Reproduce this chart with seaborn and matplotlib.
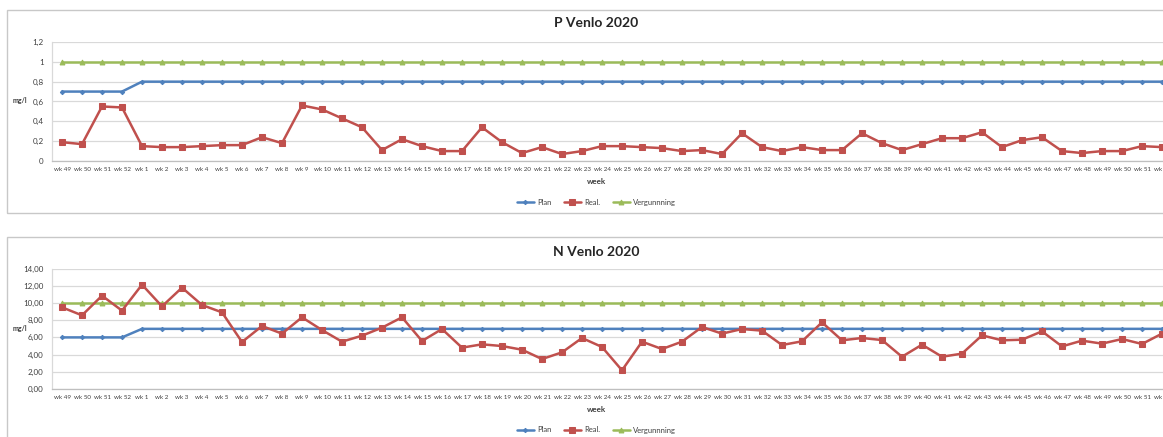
import matplotlib
matplotlib.use("Agg")
import matplotlib.pyplot as plt
import seaborn as sns
import pandas as pd
from matplotlib.patches import Rectangle
from matplotlib.ticker import FuncFormatter, MultipleLocator

# ---------------- data ----------------
weeks = ["wk 49", "wk 50", "wk 51", "wk 52"] + ["wk %d" % i for i in range(1, 53)]

p_plan = [0.7, 0.7, 0.7, 0.7,
          0.8, 0.8, 0.8, 0.8, 0.8, 0.8, 0.8, 0.8, 0.8, 0.8,
          0.8, 0.8, 0.8, 0.8, 0.8, 0.8, 0.8, 0.8, 0.8, 0.8,
          0.8, 0.8, 0.8, 0.8, 0.8, 0.8, 0.8, 0.8, 0.8, 0.8,
          0.8, 0.8, 0.8, 0.8, 0.8, 0.8, 0.8, 0.8, 0.8, 0.8,
          0.8, 0.8, 0.8, 0.8, 0.8, 0.8, 0.8, 0.8, 0.8, 0.8,
          0.8, 0.8]
p_real = [0.19, 0.17, 0.55, 0.54,
          0.15, 0.14, 0.14, 0.15, 0.16, 0.16, 0.24, 0.18, 0.56, 0.52,
          0.43, 0.34, 0.11, 0.22, 0.15, 0.10, 0.10, 0.34, 0.19, 0.08,
          0.14, 0.07, 0.10, 0.15, 0.15, 0.14, 0.13, 0.10, 0.11, 0.07,
          0.28, 0.14, 0.10, 0.14, 0.11, 0.11, 0.28, 0.18, 0.11, 0.17,
          0.23, 0.23, 0.29, 0.14, 0.21, 0.24, 0.10, 0.08, 0.10, 0.10,
          0.15, 0.14]
p_verg = [1.0, 1.0, 1.0, 1.0,
          1.0, 1.0, 1.0, 1.0, 1.0, 1.0, 1.0, 1.0, 1.0, 1.0,
          1.0, 1.0, 1.0, 1.0, 1.0, 1.0, 1.0, 1.0, 1.0, 1.0,
          1.0, 1.0, 1.0, 1.0, 1.0, 1.0, 1.0, 1.0, 1.0, 1.0,
          1.0, 1.0, 1.0, 1.0, 1.0, 1.0, 1.0, 1.0, 1.0, 1.0,
          1.0, 1.0, 1.0, 1.0, 1.0, 1.0, 1.0, 1.0, 1.0, 1.0,
          1.0, 1.0]

n_plan = [6.0, 6.0, 6.0, 6.0,
          7.0, 7.0, 7.0, 7.0, 7.0, 7.0, 7.0, 7.0, 7.0, 7.0,
          7.0, 7.0, 7.0, 7.0, 7.0, 7.0, 7.0, 7.0, 7.0, 7.0,
          7.0, 7.0, 7.0, 7.0, 7.0, 7.0, 7.0, 7.0, 7.0, 7.0,
          7.0, 7.0, 7.0, 7.0, 7.0, 7.0, 7.0, 7.0, 7.0, 7.0,
          7.0, 7.0, 7.0, 7.0, 7.0, 7.0, 7.0, 7.0, 7.0, 7.0,
          7.0, 7.0]
n_real = [9.52, 8.58, 10.88, 9.13,
          12.17, 9.63, 11.82, 9.79, 8.93, 5.46, 7.33, 6.44, 8.35, 6.86,
          5.50, 6.20, 7.14, 8.35, 5.58, 6.98, 4.80, 5.19, 4.99, 4.56,
          3.47, 4.25, 5.93, 4.88, 2.15, 5.50, 4.64, 5.50, 7.22, 6.44,
          6.98, 6.79, 5.11, 5.54, 7.76, 5.66, 5.93, 5.69, 3.74, 5.15,
          3.74, 4.10, 6.24, 5.66, 5.73, 6.71, 4.95, 5.62, 5.27, 5.81,
          5.23, 6.44]
n_verg = [10.0, 10.0, 10.0, 10.0,
          10.0, 10.0, 10.0, 10.0, 10.0, 10.0, 10.0, 10.0, 10.0, 10.0,
          10.0, 10.0, 10.0, 10.0, 10.0, 10.0, 10.0, 10.0, 10.0, 10.0,
          10.0, 10.0, 10.0, 10.0, 10.0, 10.0, 10.0, 10.0, 10.0, 10.0,
          10.0, 10.0, 10.0, 10.0, 10.0, 10.0, 10.0, 10.0, 10.0, 10.0,
          10.0, 10.0, 10.0, 10.0, 10.0, 10.0, 10.0, 10.0, 10.0, 10.0,
          10.0, 10.0]

series_names = ["Plan", "Real.", "Vergunnning"]
titles = ["P Venlo 2020", "N Venlo 2020"]

# ---------------- style ----------------
sns.set_theme(style="white")
plt.rcParams["font.family"] = ["Lato", "DejaVu Sans"]

C_PLAN = "#4F81BD"
C_REAL = "#C0504D"
C_VERG = "#9BBB59"
GRID = "#D9D9D9"
TXT = "#404040"

W, H = 1163, 437
fig = plt.figure(figsize=(W / 100, H / 100), dpi=100)
fig.patch.set_facecolor("white")


def fx(px):
    return px / W


def fy(py):
    return 1 - py / H


# chart boxes
fig.patches.append(Rectangle((fx(7), fy(213)), 1.2, fy(10) - fy(213),
                             transform=fig.transFigure, fill=False,
                             edgecolor="#C8C8C8", linewidth=1.0))
fig.patches.append(Rectangle((fx(7), -0.2), 1.2, fy(237) + 0.2,
                             transform=fig.transFigure, fill=False,
                             edgecolor="#C8C8C8", linewidth=1.0))

plot_left = 52
plot_w = 56 * 20

ax_top = fig.add_axes([fx(plot_left), fy(161), plot_w / W, fy(42) - fy(161)])
ax_bot = fig.add_axes([fx(plot_left), fy(388.7), plot_w / W, fy(269) - fy(388.7)])

x_idx = list(range(len(weeks)))


def draw(ax, plan, real, verg, ymax, step, fmt):
    df = pd.DataFrame({"idx": x_idx, "Plan": plan, "Real.": real, "Vergunnning": verg})
    sns.lineplot(data=df, x="idx", y="Vergunnning", ax=ax, color=C_VERG,
                 linewidth=1.8, marker="^", markersize=3.5, markeredgecolor=C_VERG,
                 label="Vergunnning", zorder=3)
    sns.lineplot(data=df, x="idx", y="Plan", ax=ax, color=C_PLAN,
                 linewidth=1.8, marker="D", markersize=2.2, markeredgecolor=C_PLAN,
                 label="Plan", zorder=4)
    sns.lineplot(data=df, x="idx", y="Real.", ax=ax, color=C_REAL,
                 linewidth=1.8, marker="s", markersize=3.8, markeredgecolor=C_REAL,
                 label="Real.", zorder=5)
    ax.set_xlim(-0.5, len(weeks) - 0.5)
    ax.set_ylim(0, ymax)
    ax.yaxis.set_major_locator(MultipleLocator(step))
    ax.yaxis.set_major_formatter(FuncFormatter(fmt))
    ax.set_xticks(x_idx)
    ax.set_xticklabels(weeks)
    ax.tick_params(axis="x", labelsize=4.5, colors=TXT, length=0, pad=4.5)
    ax.tick_params(axis="y", labelsize=5.8, colors=TXT, length=0, pad=6)
    ax.grid(axis="y", color=GRID, linewidth=0.9)
    ax.set_axisbelow(True)
    for s in ["top", "right"]:
        ax.spines[s].set_visible(False)
    ax.spines["left"].set_color(GRID)
    ax.spines["bottom"].set_color("#BFBFBF")
    ax.spines["left"].set_linewidth(0.9)
    ax.spines["bottom"].set_linewidth(0.9)
    ax.set_xlabel("")
    ax.set_ylabel("")
    handles, labels = ax.get_legend_handles_labels()
    ax.legend_.remove()
    order = [labels.index(n) for n in series_names]
    return [handles[i] for i in order], [labels[i] for i in order]


def fmt_p(v, pos):
    if abs(v - round(v)) < 1e-9:
        return "%d" % round(v)
    return ("%.1f" % v).replace(".", ",")


def fmt_n(v, pos):
    return ("%.2f" % v).replace(".", ",")


h1, l1 = draw(ax_top, p_plan, p_real, p_verg, 1.2, 0.2, fmt_p)
h2, l2 = draw(ax_bot, n_plan, n_real, n_verg, 14, 2, fmt_n)

cx = 0.513
# titles
fig.text(cx, fy(23), titles[0], ha="center", va="center", fontsize=10,
         fontweight="bold", color="#262626")
fig.text(cx, fy(252), titles[1], ha="center", va="center", fontsize=10,
         fontweight="bold", color="#262626")

# axis labels
for yy in (182, 410):
    fig.text(cx, fy(yy), "week", ha="center", va="center", fontsize=5.8,
             fontweight="bold", color=TXT)
fig.text(fx(20), fy(101), "mg/l", ha="center", va="center", fontsize=5,
         fontweight="bold", color=TXT)
fig.text(fx(20), fy(329), "mg/l", ha="center", va="center", fontsize=5,
         fontweight="bold", color=TXT)

# legends
for yy, (hh, ll) in ((202, (h1, l1)), (430, (h2, l2))):
    fig.legend(hh, ll, loc="center", bbox_to_anchor=(cx, fy(yy)), ncol=3,
               frameon=False, fontsize=5.5, handlelength=2.2, columnspacing=1.6,
               handletextpad=0.5, labelcolor=TXT)

fig.savefig("out.png", dpi=100, facecolor="white")
